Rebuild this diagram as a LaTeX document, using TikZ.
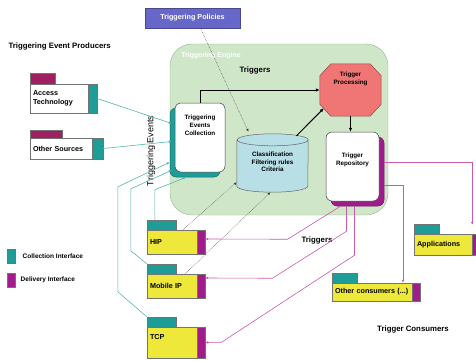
\documentclass[tikz,border=0pt]{standalone}
\usepackage{fontspec}
\setmainfont{Liberation Sans}
\usetikzlibrary{positioning, arrows.meta, shadows}
\definecolor{collecte}{HTML}{1E9C98}
\definecolor{livraison}{HTML}{A01C8C}
\definecolor{bordeaux}{HTML}{9E2060}
\definecolor{moteur}{HTML}{CFE7C8}
\definecolor{bordmoteur}{HTML}{94B590}
\definecolor{politique}{HTML}{6767C9}
\definecolor{cylindre}{HTML}{B8DEE6}
\definecolor{traitement}{HTML}{F07575}
\definecolor{jaune}{HTML}{EEE83A}
\definecolor{filcollecte}{HTML}{55B5AE}
\definecolor{fillivraison}{HTML}{C65AAE}

\begin{document}
\begin{tikzpicture}[
  x=1pt, y=1pt,
  trait/.style={draw=black!55, line width=0.4pt},
  boite/.style={trait, align=left, inner xsep=3pt, inner ysep=0pt,
                font=\fontsize{7.2}{9}\selectfont\bfseries},
  producteur/.style={boite, fill=white},
  consommateur/.style={boite, fill=jaune},
  interne/.style={draw=black!75, fill=white, rounded corners=6pt, line width=0.5pt},
  petit/.style={font=\fontsize{6.3}{7.6}\selectfont\bfseries, align=center},
  etiquette/.style={font=\fontsize{7.8}{9}\selectfont\bfseries},
  legende/.style={font=\fontsize{6.5}{8}\selectfont\bfseries},
  fl/.style={-{Latex[length=4pt,width=3.5pt]}, line width=1pt},
  fc/.style={-{Latex[length=3pt,width=2.6pt]}, filcollecte, line width=0.6pt},
  fd/.style={-{Latex[length=3pt,width=2.6pt]}, fillivraison, line width=0.6pt},
  pointille/.style={-{Latex[length=3pt,width=2.6pt]}, densely dotted, black!75, line width=0.5pt},
]
\clip (0,0) rectangle (476,360);
% moteur de déclenchement
\node[draw=bordmoteur, fill=moteur, rounded corners=22pt, minimum width=218pt,
      minimum height=171pt] (moteur) at (279,230.5) {};
\node[petit, font=\fontsize{7}{8}\selectfont\bfseries, text=white] (nommoteur) at (211,304) {Triggering Engine};
\node[draw=politique!70!black, fill=politique, text=white, minimum width=95pt,
      minimum height=20pt, font=\fontsize{7.2}{8}\selectfont\bfseries] (politiques) at (192.5,342) {Triggering Policies};
\node[interne, minimum width=50pt, minimum height=69pt,
      drop shadow={shadow xshift=-5pt, shadow yshift=-5pt, fill=collecte, draw=collecte!70!black, opacity=1}] (collecte) at (200,222.5) {};
\node[petit, anchor=north] (txtcollecte) at ([yshift=-9pt]collecte.north) {Triggering\\Events\\Collection};
% cylindre des règles
\node[minimum width=71pt, minimum height=46pt, inner sep=0pt] (filtre) at (272.5,197) {};
\draw[draw=black!60, fill=cylindre, line width=0.5pt] (filtre.north west) -- (filtre.south west)
  arc[start angle=180, end angle=360, x radius=35.5pt, y radius=6pt] -- (filtre.north east)
  arc[start angle=0, end angle=360, x radius=35.5pt, y radius=6pt];
\node[petit] (txtfiltre) at ([yshift=1pt]filtre.center) {Classification\\Filtering rules\\Criteria};
% octogone de traitement
\node[minimum width=61pt, minimum height=52pt, inner sep=0pt] (traitement) at (350.5,270) {};
\draw[draw=traitement!60!black, fill=traitement, line width=0.5pt]
  ([xshift=11pt]traitement.north west) -- ([xshift=-11pt]traitement.north east)
  -- ([yshift=-12pt]traitement.north east) -- ([yshift=12pt]traitement.south east)
  -- ([xshift=-11pt]traitement.south east) -- ([xshift=11pt]traitement.south west)
  -- ([yshift=12pt]traitement.south west) -- ([yshift=-12pt]traitement.north west) -- cycle;
\node[petit, anchor=north] (txttraitement) at ([yshift=-5pt]traitement.north) {Trigger\\Processing};
\node[interne, minimum width=53pt, minimum height=69pt,
      drop shadow={shadow xshift=5pt, shadow yshift=-5pt, fill=livraison, draw=livraison!70!black, opacity=1}] (depot) at (352.5,193.5) {};
\node[petit, anchor=north] (txtdepot) at ([yshift=-18pt]depot.north) {Trigger\\Repository};
\node[etiquette] (declencheurs) at (255,290) {Triggers};
% producteurs
\node[etiquette, anchor=west] (producteurs) at (5,314) {Triggering Event Producers};
\node[producteur, text width=61pt, minimum height=29pt] (access) at (63.5,261.5) {Access\\Technology};
\draw[trait, fill=bordeaux] (access.north west) rectangle ++(25,11);
\draw[trait, fill=collecte] (access.north east) rectangle ([xshift=-9pt]access.south east);
\node[producteur, text width=67pt, minimum height=21pt] (sources) at (66.5,211.5) {Other Sources};
\draw[trait, fill=bordeaux] (sources.north west) rectangle ++(32,8);
\draw[trait, fill=collecte] (sources.north east) rectangle ([xshift=-11pt]sources.south east);
\node[rotate=90, font=\fontsize{9}{10}\selectfont] (evenements) at (151,209) {Triggering Events};
% consommateurs
\node[consommateur, text width=52pt, minimum height=24pt] (hip) at (176,118) {HIP};
\node[consommateur, text width=52pt, minimum height=24pt] (mobile) at (176,74) {Mobile IP};
\node[consommateur, text width=52pt, minimum height=31pt, text depth=12pt] (tcp) at (176,17.5) {TCP};
\node[consommateur, text width=60pt, minimum height=21pt] (applis) at (447,115.5) {Applications};
\node[consommateur, text width=82pt, minimum height=18pt] (autres) at (376,68) {Other consumers (...)};
\foreach \c/\l in {hip/29, mobile/29, tcp/29, applis/25, autres/25}{
  \draw[trait, fill=collecte] (\c.north west) rectangle ++(\l,10);
  \draw[trait, fill=livraison] (\c.north east) rectangle ([xshift=-8pt]\c.south east);
}
\node[etiquette] (declencheursbas) at (317,120) {Triggers};
\node[etiquette] (consommateurs) at (413,31) {Trigger Consumers};
% légende
\node[trait, fill=collecte, minimum width=8pt, minimum height=14pt, inner sep=0pt] (legcollecte) at (11,104) {};
\node[legende, right=4pt of legcollecte] (txtlegcollecte) {Collection Interface};
\node[trait, fill=livraison, minimum width=8pt, minimum height=14pt, inner sep=0pt] (leglivraison) at (11,80) {};
\node[legende, right=2pt of leglivraison] (txtleglivraison) {Delivery Interface};
% flux internes
\draw[fl] (collecte.north) |- (traitement.west);
\draw[fl] ([xshift=24pt,yshift=4pt]filtre.north) -- ([xshift=4pt,yshift=8pt]traitement.south west);
\draw[fl] (traitement.south) -- (traitement.south |- depot.north);
% règles de filtrage
\draw[pointille] ([xshift=8pt]politiques.south) -- ([xshift=-24pt,yshift=8pt]filtre.north);
\draw[pointille] ([xshift=7pt]hip.north) -- ([yshift=4pt]filtre.south west);
\draw[pointille] ([xshift=9pt]mobile.north) -- ([xshift=-2pt,yshift=-6pt]filtre.south);
% interfaces de collecte
\draw[fc] (access.east) -- ([xshift=-3pt,yshift=14pt]collecte.west);
\draw[fc] (sources.east) -- ([xshift=-3pt,yshift=-4pt]collecte.west);
\draw[fc] ([xshift=8pt,yshift=10pt]hip.north west) -- ++(0,30) -- ([xshift=-14pt,yshift=-5pt]collecte.south);
\draw[fc] ([yshift=10pt]mobile.north west) -- ++(-16,13) -- ++(0,62) -- ([xshift=-3pt,yshift=2pt]collecte.south west);
\draw[fc] ([yshift=10pt]tcp.north west) -- ++(-29,25) -- ++(0,105) -- ([xshift=-5pt,yshift=10pt]collecte.south west);
% interfaces de livraison
\draw[fd] ([xshift=5pt,yshift=4pt]depot.east) -| ([xshift=-8pt,yshift=9pt]applis.north east);
\draw[fd] ([xshift=5pt,yshift=-19pt]depot.east) -| ([xshift=27pt]autres.north);
\draw[fd] ([xshift=-12pt,yshift=-5pt]depot.south) -- ++(-53,-33) -- ([yshift=3pt]hip.east);
\draw[fd] ([xshift=-6pt,yshift=-5pt]depot.south) -- ++(0,-25) -- ++(-74,-47) -- ([yshift=8pt]mobile.east);
\draw[fd] ([xshift=2pt,yshift=-5pt]depot.south) -- ++(0,-49) -- ++(-133,-87) -- (tcp.east);
\end{tikzpicture}
\end{document}
